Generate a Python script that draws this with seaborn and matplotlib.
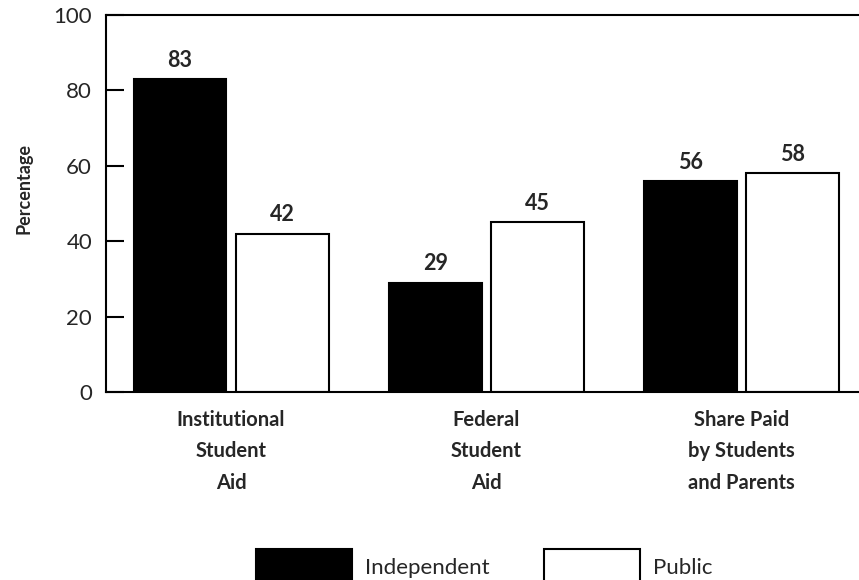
import matplotlib
matplotlib.use("Agg")
import matplotlib.pyplot as plt
import seaborn as sns
import pandas as pd

categories = ["Institutional\nStudent\nAid", "Federal\nStudent\nAid", "Share Paid\nby Students\nand Parents"]
series_names = ["Independent", "Public"]
independent = [83, 29, 56]
public = [42, 45, 58]
y_ticks = [0, 20, 40, 60, 80, 100]

sns.set_theme(style="white")
plt.rcParams["font.family"] = ["Lato", "DejaVu Sans"]

df = pd.DataFrame({
    "category": categories * 2,
    "sector": [series_names[0]] * 3 + [series_names[1]] * 3,
    "value": independent + public,
})

fig = plt.figure(figsize=(8.59, 5.80), dpi=100)
ax = fig.add_axes([0.1234, 0.324, 0.8766, 0.650])

sns.barplot(data=df, x="category", y="value", hue="sector", order=categories,
            hue_order=series_names, palette=["black", "white"], width=0.8, gap=0.09,
            edgecolor="black", linewidth=1.5, ax=ax, legend=True)

for cont in ax.containers:
    ax.bar_label(cont, fmt="%d", padding=6, fontsize=15.5, fontweight="bold")

ax.set_ylim(0, 100)
ax.set_xlim(-0.49, 2.46)
ax.set_yticks(y_ticks)
ax.set_yticklabels([str(t) for t in y_ticks], fontsize=16)
ax.tick_params(axis="y", direction="in", length=13, width=1.5, pad=10, left=True, color="black")
ax.tick_params(axis="x", length=0, pad=13, labelsize=14.5)
for lbl in ax.get_xticklabels():
    lbl.set_fontweight("bold")
    lbl.set_linespacing(1.7)

ax.set_xlabel("")
ax.set_ylabel("Percentage", fontsize=13, fontweight="bold")
ax.yaxis.set_label_coords(-0.098, 0.54)

for side in ["left", "top", "bottom"]:
    ax.spines[side].set_visible(True)
    ax.spines[side].set_color("black")
    ax.spines[side].set_linewidth(1.5)
ax.spines["right"].set_visible(False)

handles, labels = ax.get_legend_handles_labels()
ax.get_legend().remove()
fig.legend(handles, labels, loc="center", bbox_to_anchor=(0.564, 0.022), ncol=2,
           frameon=False, fontsize=16, handlelength=4.3, handleheight=2.2,
           handletextpad=0.6, columnspacing=2.45)

fig.savefig("out.png", dpi=100)
